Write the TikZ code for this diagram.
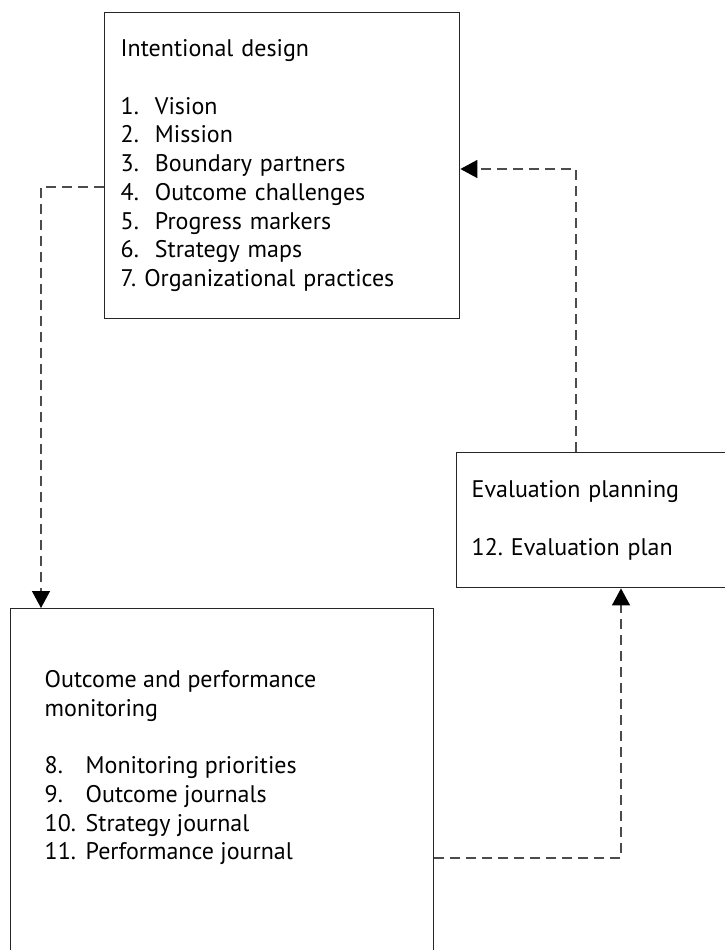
\documentclass[tikz,border=0pt]{standalone}
\usepackage{fontspec}
\setmainfont{PT Sans}
\usetikzlibrary{arrows.meta,positioning}

\begin{document}
\begin{tikzpicture}[
    x=1pt, y=-1pt,
    stage/.style={draw=black!85, line width=1.4pt, anchor=north west, align=left, inner xsep=16pt, font=\fontsize{24}{28.7}\selectfont},
    link/.style={-{Triangle[length=17pt,width=18pt,black]}, draw=black!70, line width=1.4pt, dash pattern=on 10pt off 6pt}
]
\useasboundingbox (0,0) rectangle (725,950);
\clip (0,0) rectangle (725,950);

\node[stage, text width=323pt, minimum height=306pt] (ID) at (104,12)
  {Intentional design\\[28.7pt]
   1.\ \ Vision\\
   2.\ \ Mission\\
   3.\ \ Boundary partners\\
   4.\ \ Outcome challenges\\
   5.\ \ Progress markers\\
   6.\ \ Strategy maps\\
   7.\ Organizational practices};
\node[stage, text width=270pt, minimum height=135pt, inner xsep=15pt] (EP) at (456,452)
  {Evaluation planning\\[28.7pt]
   12.\ Evaluation plan};
\node[stage, inner xsep=34pt, inner ysep=0pt] (OM) at (10,608)
  {\parbox[t][460pt][t]{355pt}{\vspace*{62pt}%
   Outcome and performance\\
   monitoring\\[28.7pt]
   \makebox[41pt][l]{8.}Monitoring priorities\\
   \makebox[41pt][l]{9.}Outcome journals\\
   \makebox[41pt][l]{10.}Strategy journal\\
   \makebox[41pt][l]{11.}Performance journal}};

\draw[link] ([yshift=-175pt]ID.north west) -| ([xshift=31pt]OM.north west);
\draw[link] ([xshift=120pt]EP.north west) |- ([yshift=-157pt]ID.north east);
\draw[link] ([yshift=-250pt]OM.north east) -| ([xshift=165pt]EP.south west);
\end{tikzpicture}
\end{document}
